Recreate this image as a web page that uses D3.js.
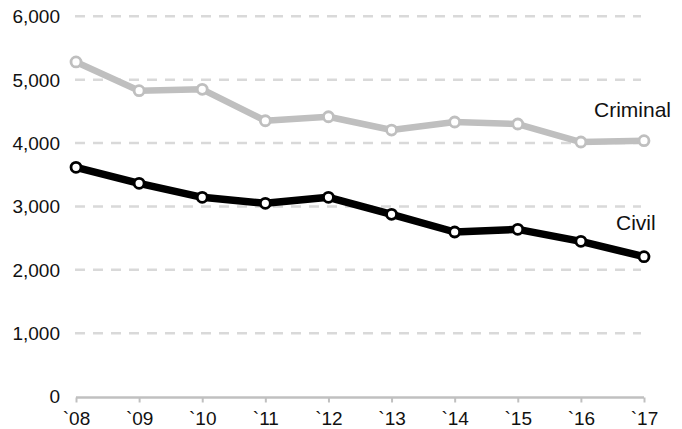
<!DOCTYPE html>
<html>
<head>
<meta charset="utf-8">
<script src="https://cdn.jsdelivr.net/npm/d3@7"></script>
<style>
  html, body { margin: 0; padding: 0; background: #fff; }
  svg { display: block; font-family: "Liberation Sans", Arial, sans-serif; }
</style>
</head>
<body>
<svg id="chart" width="682" height="429"></svg>
<script>
const years = ["`08", "`09", "`10", "`11", "`12", "`13", "`14", "`15", "`16", "`17"];
const criminal = [5280, 4826, 4848, 4352, 4415, 4205, 4332, 4300, 4016, 4037];
const civil = [3617, 3364, 3143, 3049, 3143, 2875, 2596, 2638, 2449, 2206];
const yTicks = [0, 1000, 2000, 3000, 4000, 5000, 6000];
const seriesNames = ["Criminal", "Civil"];

const svg = d3.select("#chart");
const x = d3.scalePoint().domain(years).range([76, 644]);
const y = d3.scaleLinear().domain([0, 6000]).range([396.5, 16.3]);

// gridlines
svg.append("g").selectAll("line")
  .data(yTicks.filter(d => d > 0))
  .join("line")
  .attr("x1", 75).attr("x2", 641)
  .attr("y1", d => y(d)).attr("y2", d => y(d))
  .attr("stroke", "#d9d9d9").attr("stroke-width", 2.5)
  .attr("stroke-dasharray", "10,8");

// y axis labels
const yAxis = d3.axisLeft(y).tickValues(yTicks).tickSize(0).tickPadding(0)
  .tickFormat(d3.format(","));
const gy = svg.append("g").attr("transform", "translate(60,0)").call(yAxis);
gy.select(".domain").remove();
gy.selectAll("text").attr("font-size", 19).attr("fill", "#111")
  .attr("font-family", "Liberation Sans, Arial, sans-serif").attr("dy", "0.34em");

// x axis
const xAxis = d3.axisBottom(x).tickSize(5).tickSizeOuter(0).tickPadding(9);
const gx = svg.append("g").attr("transform", `translate(0,${y(0) + 1})`).call(xAxis);
gx.select(".domain").attr("stroke", "#c0c0c0").attr("stroke-width", 2.5)
  .attr("d", `M${x(years[0])},0H${x(years[years.length - 1])}`);
gx.selectAll(".tick line").attr("stroke", "#c0c0c0").attr("stroke-width", 2);
gx.selectAll("text").attr("font-size", 19).attr("fill", "#111")
  .attr("font-family", "Liberation Sans, Arial, sans-serif");

const line = d3.line().x((d, i) => x(years[i])).y(d => y(d));

function drawSeries(values, color, width) {
  svg.append("path").datum(values)
    .attr("d", line).attr("fill", "none")
    .attr("stroke", color).attr("stroke-width", width)
    .attr("stroke-linejoin", "round");
  svg.append("g").selectAll("circle").data(values).join("circle")
    .attr("cx", (d, i) => x(years[i])).attr("cy", d => y(d))
    .attr("r", 5).attr("fill", "#fff")
    .attr("stroke", color).attr("stroke-width", 2.8);
}
drawSeries(criminal, "#bfbfbf", 6.5);
drawSeries(civil, "#000", 7.5);

// series labels
svg.append("text").attr("x", 594).attr("y", 116.5).attr("font-size", 21)
  .attr("fill", "#111").text(seriesNames[0]);
svg.append("text").attr("x", 616).attr("y", 229.5).attr("font-size", 21)
  .attr("fill", "#111").text(seriesNames[1]);
</script>
</body>
</html>
